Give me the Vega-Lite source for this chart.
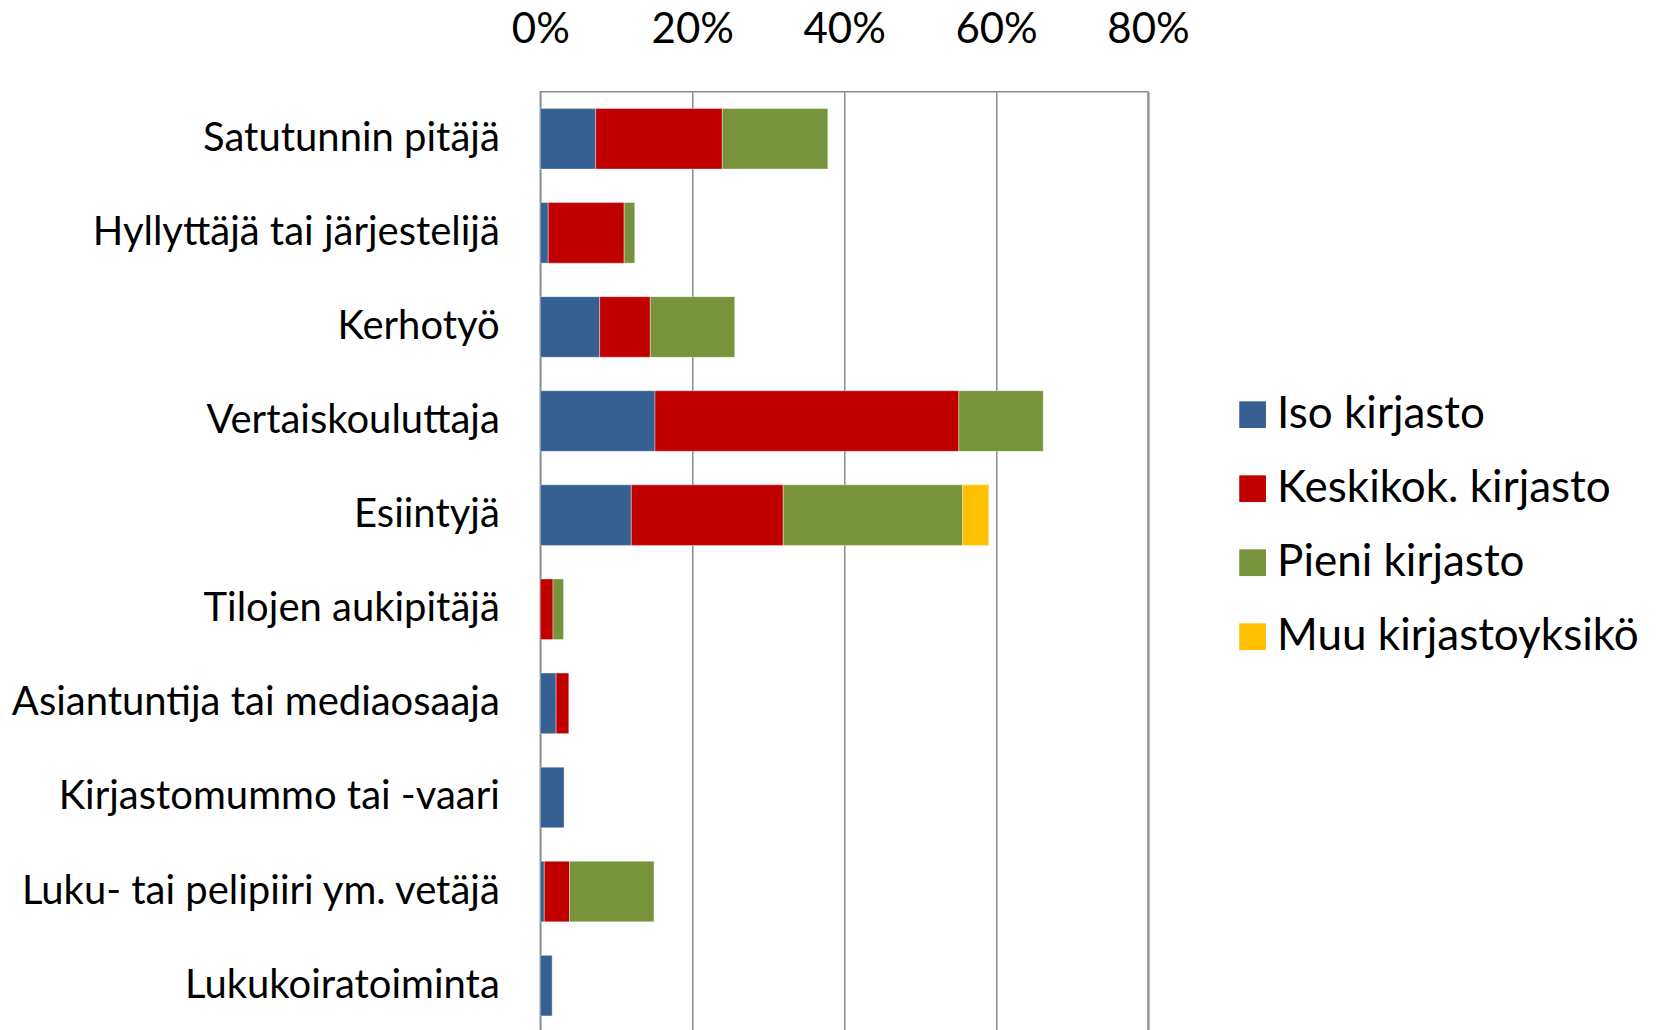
{
  "$schema": "https://vega.github.io/schema/vega-lite/v6.json",
  "width": 607.7,
  "height": 941,
  "autosize": {"type": "none"},
  "padding": {"left": 540.3, "top": 91.7, "right": 513, "bottom": 0},
  "background": "white",
  "config": {
    "font": "Lato",
    "view": {"stroke": "#8c8c8c", "strokeWidth": 1.5}
  },
  "data": {
    "values": [
      {"rooli": "Satutunnin pitäjä", "kirjasto": "Iso kirjasto", "s": 1, "osuus": 0.0729},
      {"rooli": "Satutunnin pitäjä", "kirjasto": "Keskikok. kirjasto", "s": 2, "osuus": 0.1667},
      {"rooli": "Satutunnin pitäjä", "kirjasto": "Pieni kirjasto", "s": 3, "osuus": 0.1389},
      {"rooli": "Hyllyttäjä tai järjestelijä", "kirjasto": "Iso kirjasto", "s": 1, "osuus": 0.0104},
      {"rooli": "Hyllyttäjä tai järjestelijä", "kirjasto": "Keskikok. kirjasto", "s": 2, "osuus": 0.1},
      {"rooli": "Hyllyttäjä tai järjestelijä", "kirjasto": "Pieni kirjasto", "s": 3, "osuus": 0.0139},
      {"rooli": "Kerhotyö", "kirjasto": "Iso kirjasto", "s": 1, "osuus": 0.0781},
      {"rooli": "Kerhotyö", "kirjasto": "Keskikok. kirjasto", "s": 2, "osuus": 0.0667},
      {"rooli": "Kerhotyö", "kirjasto": "Pieni kirjasto", "s": 3, "osuus": 0.1111},
      {"rooli": "Vertaiskouluttaja", "kirjasto": "Iso kirjasto", "s": 1, "osuus": 0.151},
      {"rooli": "Vertaiskouluttaja", "kirjasto": "Keskikok. kirjasto", "s": 2, "osuus": 0.4},
      {"rooli": "Vertaiskouluttaja", "kirjasto": "Pieni kirjasto", "s": 3, "osuus": 0.1111},
      {"rooli": "Esiintyjä", "kirjasto": "Iso kirjasto", "s": 1, "osuus": 0.1198},
      {"rooli": "Esiintyjä", "kirjasto": "Keskikok. kirjasto", "s": 2, "osuus": 0.2},
      {"rooli": "Esiintyjä", "kirjasto": "Pieni kirjasto", "s": 3, "osuus": 0.2361},
      {"rooli": "Esiintyjä", "kirjasto": "Muu kirjastoyksikö", "s": 4, "osuus": 0.0345},
      {"rooli": "Tilojen aukipitäjä", "kirjasto": "Keskikok. kirjasto", "s": 2, "osuus": 0.0167},
      {"rooli": "Tilojen aukipitäjä", "kirjasto": "Pieni kirjasto", "s": 3, "osuus": 0.0139},
      {"rooli": "Asiantuntija tai mediaosaaja", "kirjasto": "Iso kirjasto", "s": 1, "osuus": 0.0208},
      {"rooli": "Asiantuntija tai mediaosaaja", "kirjasto": "Keskikok. kirjasto", "s": 2, "osuus": 0.0167},
      {"rooli": "Kirjastomummo tai -vaari", "kirjasto": "Iso kirjasto", "s": 1, "osuus": 0.0313},
      {"rooli": "Luku- tai pelipiiri ym. vetäjä", "kirjasto": "Iso kirjasto", "s": 1, "osuus": 0.0052},
      {"rooli": "Luku- tai pelipiiri ym. vetäjä", "kirjasto": "Keskikok. kirjasto", "s": 2, "osuus": 0.0333},
      {"rooli": "Luku- tai pelipiiri ym. vetäjä", "kirjasto": "Pieni kirjasto", "s": 3, "osuus": 0.1111},
      {"rooli": "Lukukoiratoiminta", "kirjasto": "Iso kirjasto", "s": 1, "osuus": 0.0156}
    ]
  },
  "mark": {"type": "bar", "stroke": "white", "strokeWidth": 0.6, "strokeOpacity": 0.6},
  "encoding": {
    "y": {
      "field": "rooli",
      "type": "nominal",
      "sort": ["Satutunnin pitäjä", "Hyllyttäjä tai järjestelijä", "Kerhotyö", "Vertaiskouluttaja", "Esiintyjä", "Tilojen aukipitäjä", "Asiantuntija tai mediaosaaja", "Kirjastomummo tai -vaari", "Luku- tai pelipiiri ym. vetäjä", "Lukukoiratoiminta"],
      "scale": {"paddingInner": 0.356, "paddingOuter": 0.178},
      "axis": {
        "title": null,
        "domain": false,
        "ticks": false,
        "labelPadding": 41,
        "labelFontSize": 40,
        "labelColor": "black",
        "labelLimit": 0
      }
    },
    "x": {
      "field": "osuus",
      "type": "quantitative",
      "stack": "zero",
      "scale": {"domain": [0, 0.8], "nice": false},
      "axis": {
        "orient": "top",
        "title": null,
        "format": ".0%",
        "values": [0, 0.2, 0.4, 0.6, 0.8],
        "domain": false,
        "ticks": false,
        "labelPadding": 40,
        "labelFontSize": 42,
        "labelColor": "black",
        "labelFlush": false,
        "gridColor": "#8c8c8c",
        "gridWidth": 1.5,
        "gridOpacity": 1
      }
    },
    "color": {
      "field": "kirjasto",
      "type": "nominal",
      "scale": {
        "domain": ["Iso kirjasto", "Keskikok. kirjasto", "Pieni kirjasto", "Muu kirjastoyksikö"],
        "range": ["#376092", "#C00000", "#77933C", "#FFC000"]
      },
      "legend": {
        "title": null,
        "orient": "none",
        "legendX": 690.3,
        "legendY": 301,
        "symbolType": "square",
        "symbolSize": 713,
        "symbolStrokeWidth": 0,
        "symbolOpacity": 1,
        "labelFontSize": 44,
        "labelColor": "black",
        "labelOffset": 2.5,
        "rowPadding": 30,
        "padding": 0,
        "labelLimit": 0
      }
    },
    "order": {"field": "s", "type": "quantitative"}
  }
}
